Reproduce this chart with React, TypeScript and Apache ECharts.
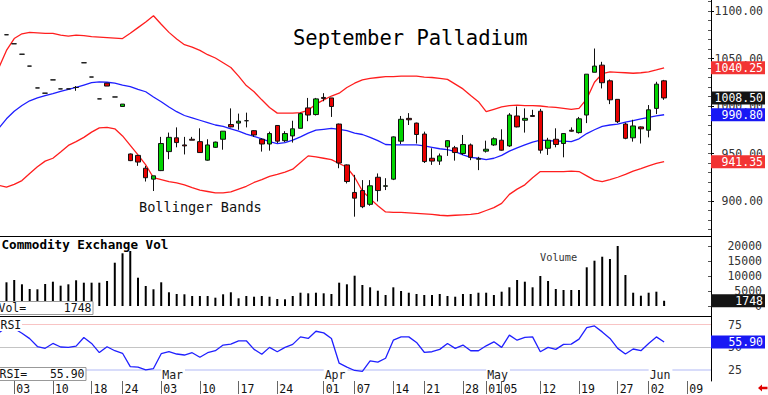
import React, { useEffect, useRef } from 'react';
import * as echarts from 'echarts';

// Trading days (index = x position on the chart)
const days: string[] = [
  '01-30', '01-31',
  '02-03', '02-04', '02-05', '02-06', '02-07',
  '02-10', '02-11', '02-12', '02-13', '02-14',
  '02-18', '02-19', '02-20', '02-21',
  '02-24', '02-25', '02-26', '02-27', '02-28',
  '03-03', '03-04', '03-05', '03-06', '03-07',
  '03-10', '03-11', '03-12', '03-13', '03-14',
  '03-17', '03-18', '03-19', '03-20', '03-21',
  '03-24', '03-25', '03-26', '03-27', '03-28',
  '03-31',
  '04-01', '04-02', '04-03', '04-04',
  '04-07', '04-08', '04-09', '04-10', '04-11',
  '04-14', '04-15', '04-16', '04-17',
  '04-21', '04-22', '04-23', '04-24', '04-25',
  '04-28', '04-29', '04-30',
  '05-01', '05-02',
  '05-05', '05-06', '05-07', '05-08', '05-09',
  '05-12', '05-13', '05-14', '05-15', '05-16',
  '05-19', '05-20', '05-21', '05-22', '05-23',
  '05-27', '05-28', '05-29', '05-30',
  '06-02', '06-03', '06-04', '06-05', '06-06',
  '06-09', '06-10', '06-11', '06-12',
];

const tickDays: string[] = ['02-03', '02-10', '02-18', '02-24', '03-03', '03-10', '03-17', '03-24', '04-01', '04-07',
  '04-14', '04-21', '04-28', '05-01', '05-05', '05-12', '05-19', '05-27', '06-02', '06-09'];
const monthDays: string[] = ['03-03', '04-01', '05-01', '06-02'];
const monthNames: string[] = ['Mar', 'Apr', 'May', 'Jun'];

const priceTicks: number[] = [900, 950, 1000, 1050, 1100];
const priceMinorTicks: number[] = [870, 880, 890, 900, 910, 920, 930, 940, 950, 960, 970, 980, 990, 1000, 1010, 1020,
  1030, 1040, 1050, 1060, 1070, 1080, 1090, 1100, 1110];
const volTicks: number[] = [0, 5000, 10000, 15000, 20000];
const rsiTicks: number[] = [25, 50, 75];

// Sessions aligned with days[0..86]; first day only feeds the indicator lines
const opens: (number | null)[] = [null,
  1075, 1065.5, 1054.5, 1042, 1019, 1013.5, 1027.5, 1018, 1018, 1019.5,
  1045.5, 1030.5, 1007.5, 1024, 1009.5, 999.5, 949.5, 948, 934.5, 923,
  932, 952, 966.5, 959, 965, 962.5, 943, 956.5, 965, 980.5,
  982, 984.5, 974, 965, 960, 979.5, 963.5, 968.5, 976.5, 998,
  991, 1009, 1008.5, 981, 938, 909, 911, 896.5, 925, 915.5,
  923, 963, 987, 982, 970.5, 945, 942, 957, 956, 950,
  959, 944, 952.5, 959, 964, 958, 989.5, 985, 990, 994.5,
  955.5, 965, 960.5, 974.5, 972, 990.5, 1035.5, 1043, 1026.5, 1007,
  981, 966.5, 978, 974.5, 997.5, 1026.5];
const closes: (number | null)[] = [null,
  1075, 1065.5, 1054.5, 1042, 1019, 1013.5, 1027.5, 1018, 1018, 1019.5,
  1045.5, 1030.5, 1007.5, 1021, 1009.5, 1002, 942.5, 941, 924.5, 926.5,
  960.5, 967, 961.5, 958, 964, 951, 959, 962, 973.5, 978,
  984, 984.5, 969.5, 960, 971, 963, 971, 976, 992, 990.5,
  1007.5, 1008, 999.5, 940, 920.5, 903, 894, 916, 911, 916,
  967.5, 986, 985.5, 970, 941.5, 942, 947.5, 963.5, 951, 959.5,
  946, 944.5, 954.5, 965.5, 953.5, 990.5, 978, 987, 989, 953.5,
  964, 959.5, 971, 973.5, 986.5, 1033.5, 1042, 1024.5, 1006.5, 983.5,
  966, 979, 976, 996, 1023, 1008.5];
const lows: (number | null)[] = [null,
  1075, 1065.5, 1054.5, 1042, 1019, 1013.5, 1027.5, 1018, 1018, 1016,
  1045.5, 1030.5, 1007.5, 1021, 1009.5, 999.5, 942, 937, 920.5, 910.5,
  931.5, 944, 956.5, 949, 964, 950.5, 942.5, 956, 954, 977.5,
  975, 977.5, 967.5, 952, 953, 961, 962, 961.5, 976.5, 984,
  990, 1005, 988.5, 934.5, 918.5, 883.5, 892.5, 895, 899.5, 911.5,
  922, 960, 980, 960.5, 940, 938, 938, 947.5, 942.5, 948.5,
  943, 932.5, 951, 958, 953, 957, 977.5, 972, 989, 950,
  948.5, 956.5, 946, 973, 971, 982, 1035.5, 1018.5, 1002, 982,
  965, 962.5, 960.5, 967, 991.5, 1006.5];
const highs: (number | null)[] = [null,
  1075, 1065.5, 1054.5, 1042, 1019, 1013.5, 1027.5, 1018, 1018, 1021,
  1045.5, 1030.5, 1007.5, 1024, 1009.5, 1002, 950, 948.5, 937, 926.5,
  967.5, 972, 977.5, 967.5, 967.5, 976.5, 965, 962.5, 973.5, 997.5,
  992, 993, 974.5, 966, 973, 980, 973.5, 984.5, 993, 1008.5,
  1008.5, 1013.5, 1008.5, 981.5, 938.5, 927.5, 922, 922, 929, 924,
  968, 989.5, 992.5, 982.5, 973, 955.5, 950, 964, 958, 969.5,
  960.5, 946.5, 963.5, 967, 975.5, 992.5, 999.5, 997.5, 996, 997,
  966.5, 976.5, 971.5, 977.5, 988.5, 1033.5, 1060.5, 1046.5, 1028, 1007,
  982.5, 985.5, 978.5, 1001, 1025.5, 1027.5];

const upperBand: number[] = [1040,
  1058.5, 1071, 1076, 1077.5, 1077, 1076.5, 1076.5, 1074.5, 1073.5, 1074.5,
  1074, 1073, 1072.5, 1072, 1071.5, 1071, 1076.5, 1082.5, 1088.5, 1095,
  1086, 1077.5, 1070.5, 1064.5, 1062, 1058.5, 1054, 1050.5, 1045.5, 1040.5,
  1031.5, 1021.5, 1015, 1006.5, 998.5, 992.5, 992.5, 992.5, 993, 995.5,
  1002, 1006.5, 1010.5, 1013.5, 1019.5, 1024, 1027.5, 1029, 1030, 1031,
  1031, 1031.5, 1031.5, 1031.5, 1030.5, 1030, 1029, 1028, 1023, 1018,
  1011, 1004.5, 994, 996.5, 999, 1000.5, 1001, 1000.5, 1000.5, 1000,
  999, 998.5, 997.5, 996.5, 997.5, 1007.5, 1025, 1034, 1036, 1035.5,
  1035, 1034.5, 1035, 1036, 1038, 1040.25];
const middleBand: number[] = [976.5,
  986.5, 994.5, 1000.5, 1005.5, 1008.5, 1011, 1013, 1015.5, 1017.5, 1019.5,
  1022, 1024.5, 1025.5, 1025, 1024, 1022, 1020.5, 1017.5, 1015, 1009.5,
  1004.5, 999, 994, 990, 987.5, 985, 982.5, 980, 978.5, 976,
  973.5, 970.5, 968, 965.5, 962.5, 960.5, 961.5, 964, 967.5, 971.5,
  974.5, 975.5, 976.5, 975.5, 974, 971.5, 970, 967, 963.5, 959.5,
  959, 959, 959, 959, 958, 956.5, 955, 954, 952, 948.5,
  946, 945, 943.5, 945, 948, 952.5, 956, 959, 962, 964,
  963.5, 963, 963, 962.5, 965.5, 971, 975, 978.5, 980, 981,
  983, 984.5, 986.5, 988, 989.5, 990.8];
const lowerBand: number[] = [916.5,
  914.5, 917.5, 921.5, 929, 936, 942, 945, 951.5, 958.5, 962.5,
  967, 972.5, 977, 977.5, 976, 968.5, 958.5, 948.5, 938, 924.5,
  922.5, 920.5, 919, 917, 914, 911.5, 910, 908.5, 908.5, 909.5,
  912.5, 915.5, 919.5, 922.5, 926, 928, 930.5, 933.5, 940.5, 947.5,
  946.5, 945, 943.5, 939.5, 935.5, 925, 910.5, 902.5, 895, 888.5,
  888, 888, 887.5, 887, 886.5, 886, 885, 884.5, 885, 885.5,
  886, 887, 890, 893, 897.5, 907, 912.5, 917, 924.5, 931,
  931, 931, 931, 931.5, 931, 926.5, 922, 920.5, 922.5, 925,
  928, 931.5, 934, 937, 939.5, 941.35];

const volume: (number | null)[] = [null,
  7900, 8670, 7230, 5670, 5570, 7330, 8100, 6770, 7230, 8570,
  7770, 7770, 7770, 8330, 14430, 17570, 18330, 9430, 6670, 5570,
  7900, 4570, 4000, 3900, 3330, 3330, 3330, 2770, 3900, 4570,
  2570, 3330, 3100, 3330, 3100, 2330, 2230, 3330, 4430, 4230,
  4430, 4230, 4000, 7770, 7230, 10100, 7000, 6230, 5100, 3670,
  6230, 5000, 4430, 4000, 3670, 3670, 4000, 3330, 3100, 4000,
  4000, 4430, 4430, 3670, 4770, 6230, 8670, 8100, 6230, 10000,
  8330, 5670, 5330, 5330, 5330, 12900, 15100, 16430, 15670, 20000,
  10330, 4430, 3430, 4430, 4770, 1748];

const rsi: number[] = [66,
  72, 70.7, 65.5, 59.6, 50.9, 49, 54.3, 50.4, 50, 51.4,
  60.9, 54.3, 44.3, 50.7, 46.3, 43.5, 28.9, 28.3, 25.3, 26.7,
  43, 45.2, 42.7, 41.6, 44.1, 39.1, 44.1, 46.3, 52.5, 53.6,
  57.2, 57.2, 47.8, 42.4, 50, 45.2, 50, 53.3, 61.5, 59.8,
  67.7, 65.9, 59.8, 32.6, 28.3, 24.6, 23.5, 35.1, 33.7, 38,
  57.9, 61.5, 61.5, 55.4, 44.6, 45.2, 47.8, 54.3, 48.9, 52.5,
  46.3, 46.3, 51.7, 56.1, 50, 63.4, 57.9, 60.9, 61.5, 45.2,
  50, 47.8, 53.3, 53.6, 59, 71.7, 73.5, 67, 59.8, 48.9,
  42.7, 48.2, 46.3, 54.3, 61.5, 55.9];

const X_MIN = 0.163;
const X_MAX = 92.06;
const P_MIN = 863.16;
const P_MAX = 1111.58;
const V_MIN = -3333.3;
const V_MAX = 23333.3;
const R_MIN = 13.04;
const R_MAX = 84.46;
const MONO = '"DejaVu Sans Mono", "Liberation Mono", monospace';

function buildOption(): any {
  const candleData: any[] = [];
  const volData: any[] = [];
  for (let j = 0; j < opens.length; j++) {
    if (opens[j] == null) continue;
    candleData.push([j, opens[j], closes[j], lows[j], highs[j]]);
    volData.push([j, volume[j]]);
  }
  const pairs = (arr: number[]) => arr.map((v, j) => [j, v]);
  const last = (arr: any[]) => arr[arr.length - 1];

  const tickX = tickDays.map((d) => days.indexOf(d));
  const tickLabel: Record<number, string> = {};
  tickDays.forEach((d, k) => { tickLabel[tickX[k]] = d.slice(3); });
  const monthX = monthDays.map((d) => days.indexOf(d));
  const monthLabel: Record<number, string> = {};
  monthDays.forEach((_, k) => { monthLabel[monthX[k]] = monthNames[k]; });

  const boxVals = [last(upperBand), last(closes), last(middleBand), last(lowerBand)];
  const boxKeys = ['r', 'k', 'b', 'r'];
  const boxText = { fontFamily: MONO, fontSize: 11.5, color: '#fff', width: 50, height: 12, lineHeight: 12, align: 'right', padding: [1, 2, 0, 2] };
  const rich = {
    r: { ...boxText, backgroundColor: '#f23434' },
    k: { ...boxText, backgroundColor: '#141414' },
    b: { ...boxText, backgroundColor: '#1818f4' },
  };
  const axisText = { fontFamily: MONO, fontSize: 11.5, color: '#333' };
  const noLine = { show: false, onZero: false };
  const blackLine = { show: true, onZero: false, lineStyle: { color: '#000', width: 1 } };

  const xBase = (grid: number) => ({ gridIndex: grid, type: 'value', min: X_MIN, max: X_MAX, splitLine: { show: false } });

  return {
    animation: false,
    backgroundColor: '#fff',
    grid: [
      { left: 0, right: 54, top: 0, height: 236 },
      { left: 0, right: 54, top: 236, height: 80 },
      { left: 0, right: 54, top: 316, height: 65.7 },
    ],
    xAxis: [
      { ...xBase(0), show: false },
      { ...xBase(1), position: 'top', axisLine: blackLine, axisTick: { show: false }, axisLabel: { show: false } },
      { ...xBase(2), position: 'top', axisLine: blackLine, axisTick: { show: false }, axisLabel: { show: false } },
      {
        ...xBase(2), position: 'bottom', axisLine: noLine,
        axisTick: { show: true, customValues: tickX, length: 13, lineStyle: { color: '#666', width: 1 } },
        axisLabel: {
          show: true, customValues: tickX, formatter: (v: number) => tickLabel[Math.round(v)] || '',
          align: 'left', padding: [0, 0, 0, 2], margin: 2, fontFamily: MONO, fontSize: 11.5, color: '#111',
        },
      },
      {
        ...xBase(2), position: 'bottom', z: 10, axisLine: noLine, axisTick: { show: false },
        axisLabel: {
          show: true, inside: true, customValues: monthX, formatter: (v: number) => monthLabel[Math.round(v)] || '',
          align: 'left', margin: 0, padding: [1, 2, 0, 1], backgroundColor: '#fff',
          fontFamily: MONO, fontSize: 11.5, color: '#222',
        },
      },
    ],
    yAxis: [
      {
        gridIndex: 0, type: 'value', position: 'right', min: P_MIN, max: P_MAX, splitLine: { show: false },
        axisLine: blackLine,
        axisTick: { show: true, customValues: priceTicks, length: 3, lineStyle: { color: '#000' } },
        axisLabel: { show: true, customValues: priceTicks, formatter: (v: number) => v.toFixed(2), align: 'right', margin: 52, ...axisText },
      },
      {
        gridIndex: 0, type: 'value', position: 'right', min: P_MIN, max: P_MAX, splitLine: { show: false },
        axisLine: noLine,
        axisTick: { show: true, inside: true, customValues: priceMinorTicks, length: 3, lineStyle: { color: '#555' } },
        axisLabel: { show: false },
      },
      {
        gridIndex: 0, type: 'value', position: 'right', min: P_MIN, max: P_MAX, splitLine: { show: false }, z: 2,
        axisLine: noLine, axisTick: { show: false },
        axisLabel: {
          show: true, customValues: boxVals, margin: 0, align: 'left', rich,
          formatter: (v: number) => {
            let k = 0;
            let best = Infinity;
            boxVals.forEach((b, i) => { const d = Math.abs(b - v); if (d < best) { best = d; k = i; } });
            return `{${boxKeys[k]}|${boxVals[k].toFixed(2)}}`;
          },
        },
      },
      {
        gridIndex: 1, type: 'value', position: 'right', min: V_MIN, max: V_MAX, splitLine: { show: false },
        axisLine: blackLine,
        axisTick: { show: true, inside: true, customValues: volTicks, length: 3, lineStyle: { color: '#555' } },
        axisLabel: { show: true, customValues: volTicks, formatter: (v: number) => String(v), align: 'right', margin: 51, ...axisText },
      },
      {
        gridIndex: 1, type: 'value', position: 'right', min: V_MIN, max: V_MAX, splitLine: { show: false }, z: 2,
        axisLine: noLine, axisTick: { show: false },
        axisLabel: {
          show: true, customValues: [last(volume)], margin: 0, align: 'left', rich,
          formatter: (v: number) => `{k|${Math.round(v)}}`,
        },
      },
      {
        gridIndex: 2, type: 'value', position: 'right', min: R_MIN, max: R_MAX, splitLine: { show: false },
        axisLine: blackLine,
        axisTick: { show: false },
        axisLabel: { show: true, customValues: rsiTicks, formatter: (v: number) => String(v), align: 'left', margin: 17, ...axisText },
      },
      {
        gridIndex: 2, type: 'value', position: 'right', min: R_MIN, max: R_MAX, splitLine: { show: false }, z: 2,
        axisLine: noLine, axisTick: { show: false },
        axisLabel: {
          show: true, customValues: [last(rsi)], margin: 0, align: 'left', rich,
          formatter: (v: number) => `{b|${v.toFixed(2)}}`,
        },
      },
    ],
    series: [
      {
        name: 'Upper', type: 'line', xAxisIndex: 0, yAxisIndex: 0, data: pairs(upperBand), symbol: 'none', z: 2,
        lineStyle: { color: '#ff1e1e', width: 1.3 },
      },
      {
        name: 'Middle', type: 'line', xAxisIndex: 0, yAxisIndex: 0, data: pairs(middleBand), symbol: 'none', z: 2,
        lineStyle: { color: '#1e1eff', width: 1.3 },
      },
      {
        name: 'Lower', type: 'line', xAxisIndex: 0, yAxisIndex: 0, data: pairs(lowerBand), symbol: 'none', z: 2,
        lineStyle: { color: '#ff1e1e', width: 1.3 },
      },
      {
        name: 'Palladium', type: 'candlestick', xAxisIndex: 0, yAxisIndex: 0, data: candleData, barWidth: 5, z: 3,
        itemStyle: {
          color: '#00d400', color0: '#e80000', borderColor: '#111', borderColor0: '#111', borderColorDoji: '#111', borderWidth: 1,
        },
      },
      {
        name: 'Volume', type: 'bar', xAxisIndex: 1, yAxisIndex: 3, data: volData, barWidth: 2,
        itemStyle: { color: '#000' },
      },
      {
        name: 'RSI', type: 'line', xAxisIndex: 2, yAxisIndex: 5, data: pairs(rsi), symbol: 'none', z: 3,
        lineStyle: { color: '#2020ff', width: 1.3 },
        markLine: {
          silent: true, symbol: 'none', label: { show: false }, z: 1,
          data: [
            { yAxis: 75, lineStyle: { color: '#f8c4c4', type: 'solid', width: 1 } },
            { yAxis: 50, lineStyle: { color: '#c4c4c4', type: 'solid', width: 1 } },
            { yAxis: 25, lineStyle: { color: '#cbd0f8', type: 'solid', width: 1.5 } },
          ],
        },
      },
    ],
    graphic: [
      { type: 'text', z: 100, x: 293, y: 38, style: { text: 'September Palladium', font: `20.5px ${MONO}`, fill: '#000', textAlign: 'left', textVerticalAlign: 'middle' } },
      { type: 'text', z: 100, x: 139, y: 207, style: { text: 'Bollinger Bands', font: `13.6px ${MONO}`, fill: '#111', textAlign: 'left', textVerticalAlign: 'middle' } },
      { type: 'text', z: 100, x: 1.5, y: 244, style: { text: 'Commodity Exchange Vol', font: `bold 12.6px ${MONO}`, fill: '#000', textAlign: 'left', textVerticalAlign: 'middle' } },
      { type: 'text', z: 100, x: 540, y: 257, style: { text: 'Volume', font: `10.3px ${MONO}`, fill: '#333', textAlign: 'left', textVerticalAlign: 'middle' } },
      { type: 'rect', z: 100, shape: { x: -1, y: 301.5, width: 94, height: 13 }, style: { fill: '#fff', stroke: '#999', lineWidth: 1 } },
      { type: 'text', z: 101, x: -1.5, y: 308.3, style: { text: 'Vol=', font: `11.5px ${MONO}`, fill: '#111', textAlign: 'left', textVerticalAlign: 'middle' } },
      { type: 'text', z: 101, x: 91.5, y: 308.3, style: { text: String(last(volume)), font: `11.5px ${MONO}`, fill: '#111', textAlign: 'right', textVerticalAlign: 'middle' } },
      { type: 'rect', z: 100, shape: { x: 0, y: 318, width: 22, height: 13 }, style: { fill: '#fff' } },
      { type: 'text', z: 101, x: 0.5, y: 324.5, style: { text: 'RSI', font: `11.5px ${MONO}`, fill: '#111', textAlign: 'left', textVerticalAlign: 'middle' } },
      { type: 'rect', z: 100, shape: { x: -1, y: 367.5, width: 87, height: 13 }, style: { fill: '#fff', stroke: '#999', lineWidth: 1 } },
      { type: 'text', z: 101, x: -0.5, y: 374, style: { text: 'RSI=', font: `11.5px ${MONO}`, fill: '#111', textAlign: 'left', textVerticalAlign: 'middle' } },
      { type: 'text', z: 101, x: 84.5, y: 374, style: { text: last(rsi).toFixed(2), font: `11.5px ${MONO}`, fill: '#111', textAlign: 'right', textVerticalAlign: 'middle' } },
      {
        type: 'polygon', z: 100,
        shape: { points: [[758, 388], [762, 384.5], [762, 386.8], [767.5, 386.8], [767.5, 389.2], [762, 389.2], [762, 391.5]] },
        style: { fill: '#e00000' },
      },
    ],
  };
}

export default function App() {
  const ref = useRef<HTMLDivElement>(null);
  useEffect(() => {
    if (!ref.current) return undefined;
    const chart = echarts.init(ref.current, null, { renderer: 'svg' });
    chart.setOption(buildOption());
    return () => chart.dispose();
  }, []);
  return <div ref={ref} style={{ position: 'absolute', left: 0, top: 0, width: 768, height: 395 }} />;
}
